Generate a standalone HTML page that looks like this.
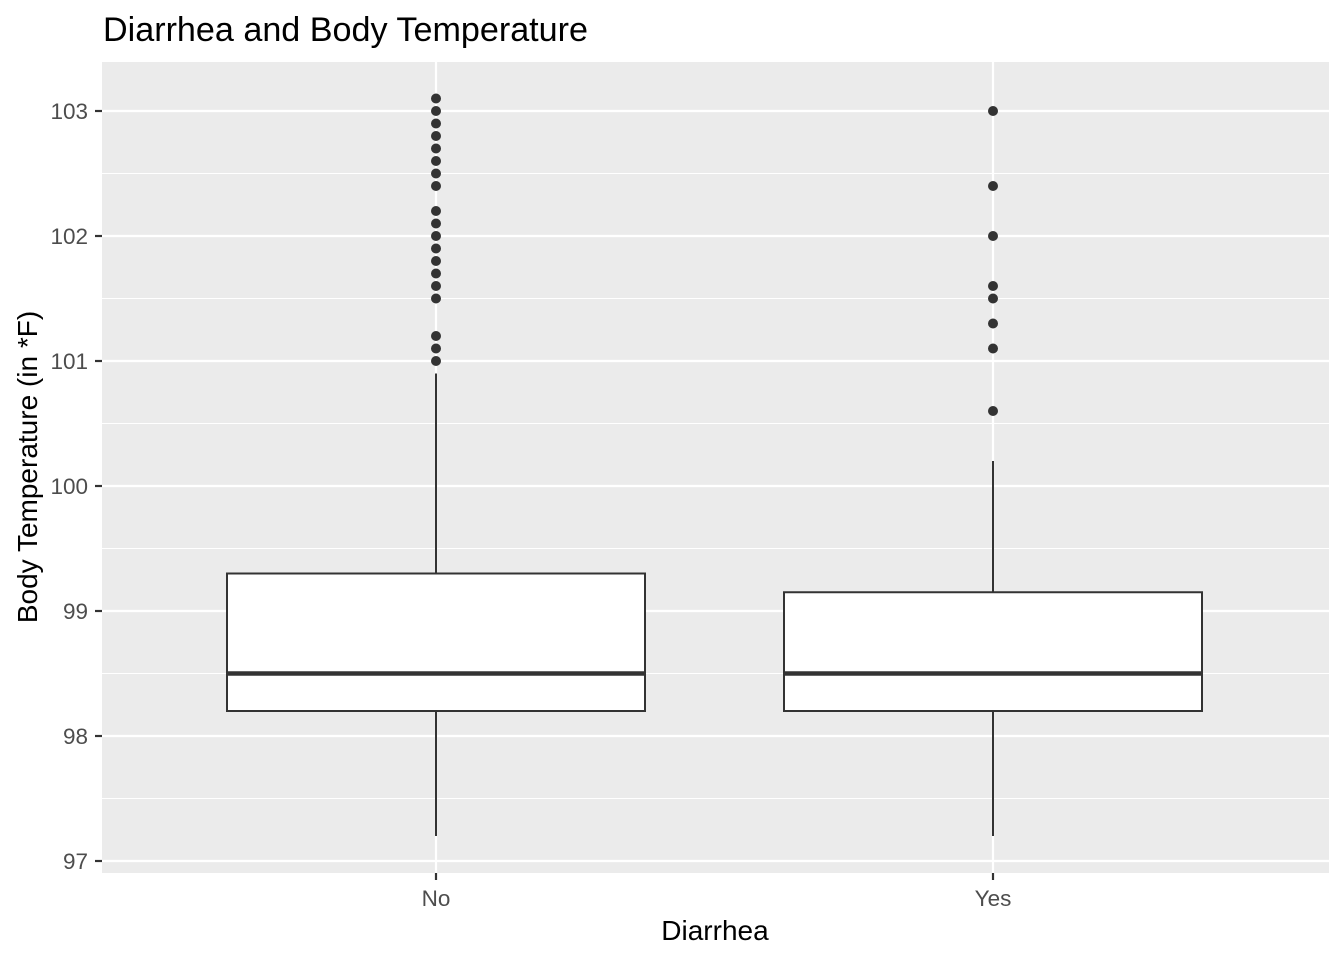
<!DOCTYPE html>
<html><head><meta charset="utf-8"><style>
html,body{margin:0;padding:0;background:#fff}
svg{display:block;font-family:"Liberation Sans",Arial,sans-serif}
</style></head><body>
<svg id="chart" width="1344" height="960" viewBox="0 0 1344 960" xmlns="http://www.w3.org/2000/svg">
<rect x="0" y="0" width="1344" height="960" fill="#fff"/>
<text x="103" y="41" font-size="34" fill="#000" textLength="485" lengthAdjust="spacingAndGlyphs">Diarrhea and Body Temperature</text>
<rect x="102" y="62" width="1227" height="811" fill="#ebebeb"/>
<g id="grid"></g>
<g id="marks"></g>
<g id="axes"></g>
<text x="715" y="940" font-size="28" fill="#000" text-anchor="middle">Diarrhea</text>
<text transform="translate(37,467) rotate(-90)" font-size="28" fill="#000" text-anchor="middle">Body Temperature (in *F)</text>
</svg>
<script>
const categories = ["No", "Yes"];
const q1 = [98.2, 98.2];
const medians = [98.5, 98.5];
const q3 = [99.3, 99.15];
const whiskerLow = [97.2, 97.2];
const whiskerHigh = [100.9, 100.2];
const outliersNo = [101.0,101.1,101.2,101.5,101.6,101.7,101.8,101.9,102.0,102.1,102.2,102.4,102.5,102.6,102.7,102.8,102.9,103.0,103.1];
const outliersYes = [100.6,101.1,101.3,101.5,101.6,102.0,102.4,103.0];
const yTicks = [97, 98, 99, 100, 101, 102, 103];

const NS = "http://www.w3.org/2000/svg";
const yScale = v => 861 - (v - 97) * 125;
const xScale = i => 436 + i * 557;
const boxHalf = 209;
function mk(tag, attrs, parent) {
  const e = document.createElementNS(NS, tag);
  for (const k in attrs) e.setAttribute(k, attrs[k]);
  parent.appendChild(e);
  return e;
}
const grid = document.getElementById("grid");
const marks = document.getElementById("marks");
const axes = document.getElementById("axes");

for (let i = 0; i < yTicks.length - 1; i++) {
  const y = yScale((yTicks[i] + yTicks[i + 1]) / 2);
  const l = mk("line", {x1: 102, x2: 1329, y1: y, y2: y, stroke: "#fff", "stroke-width": 1.1}, grid);
  
  
}
yTicks.forEach(t => {
  const y = yScale(t);
  const l = mk("line", {x1: 102, x2: 1329, y1: y, y2: y, stroke: "#fff", "stroke-width": 2.2}, grid);
  
  
  const tk = mk("line", {x1: 95, x2: 102, y1: y, y2: y, stroke: "#333", "stroke-width": 2.2}, axes);
  
  
  const tx = mk("text", {x: 88, y: y + 8, "font-size": 22.5, fill: "#4d4d4d", "text-anchor": "end"}, axes);
  tx.textContent = t;
  
  
});
categories.forEach((c, i) => {
  const x = xScale(i);
  const g = mk("line", {x1: x, x2: x, y1: 62, y2: 873, stroke: "#fff", "stroke-width": 2.2}, grid);
  
  
  const tk = mk("line", {x1: x, x2: x, y1: 873, y2: 880, stroke: "#333", "stroke-width": 2.2}, axes);
  
  
  const tx = mk("text", {x: x, y: 906, "font-size": 22.5, fill: "#4d4d4d", "text-anchor": "middle"}, axes);
  tx.textContent = c;
  
  

  const w1 = mk("line", {x1: x, x2: x, y1: yScale(whiskerHigh[i]), y2: yScale(q3[i]), stroke: "#333", "stroke-width": 2}, marks);
  
  
  const w2 = mk("line", {x1: x, x2: x, y1: yScale(q1[i]), y2: yScale(whiskerLow[i]), stroke: "#333", "stroke-width": 2}, marks);
  
  
  const b = mk("rect", {x: x - boxHalf, y: yScale(q3[i]), width: boxHalf * 2, height: yScale(q1[i]) - yScale(q3[i]), fill: "#fff", stroke: "#333", "stroke-width": 2}, marks);
  
  
  const m = mk("line", {x1: x - boxHalf, x2: x + boxHalf, y1: yScale(medians[i]), y2: yScale(medians[i]), stroke: "#333", "stroke-width": 4.5}, marks);
  
  
  const outs = i === 0 ? outliersNo : outliersYes;
  outs.forEach(v => {
    const p = mk("circle", {cx: x, cy: yScale(v), r: 5, fill: "#333"}, marks);
    
    
  });
});
</script>
</body></html>
